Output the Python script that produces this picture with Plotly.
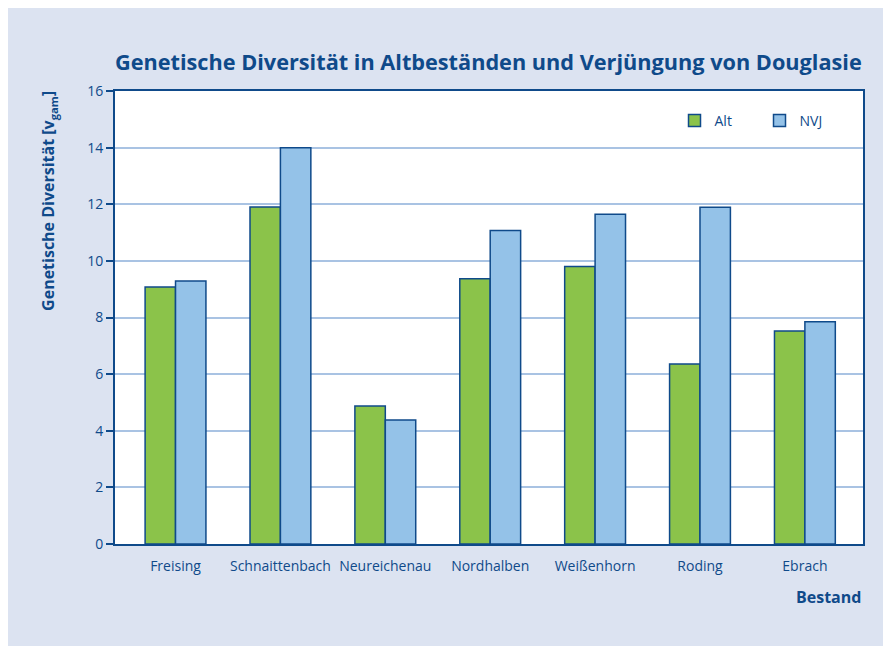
import plotly.graph_objects as go

# ---- Daten ----
bestaende = ['Freising', 'Schnaittenbach', 'Neureichenau', 'Nordhalben',
             'Weißenhorn', 'Roding', 'Ebrach']
alt = [9.08, 11.9, 4.87, 9.37, 9.8, 6.36, 7.52]
nvj = [9.29, 14.0, 4.38, 11.07, 11.65, 11.89, 7.85]
y_ticks = [0, 2, 4, 6, 8, 10, 12, 14, 16]

dunkelblau = '#0f4a8a'
gruen = '#8bc34a'
hellblau = '#94c2e8'
hintergrund = '#dce3f1'
font = 'Open Sans'

bargap = 0.42
x_range = [-0.577, 6.554]
# Striche an den Kanten der Balkengruppen
half = (1 - bargap) / 2
kanten = [x_range[0]] + [v for i in range(len(bestaende)) for v in (i - half, i + half)] + [x_range[1]]

fig = go.Figure()
fig.add_trace(go.Bar(x=bestaende, y=alt, name='Alt', marker_color=gruen,
                     marker_line=dict(color=dunkelblau, width=1.5)))
fig.add_trace(go.Bar(x=bestaende, y=nvj, name='NVJ', marker_color=hellblau,
                     marker_line=dict(color=dunkelblau, width=1.5)))

# die Seite hat 8px Rand -> Figur etwas kleiner
fig.update_layout(
    width=883, height=638,
    margin=dict(l=107, r=28, t=83, b=102),
    paper_bgcolor=hintergrund, plot_bgcolor='white',
    font=dict(family=font, size=14, color=dunkelblau),
    barmode='group', bargap=bargap, bargroupgap=0,
    title=dict(text='<b>Genetische Diversität in Altbeständen und Verjüngung von Douglasie</b>',
               x=0.544, xanchor='center', y=0.915, yanchor='middle',
               font=dict(size=21.7, color=dunkelblau, family=font)),
    xaxis=dict(type='category', range=x_range, showgrid=False, tickangle=0,
               showline=True, linecolor=dunkelblau, linewidth=2, mirror=True,
               ticks='outside', ticklen=8, tickcolor='rgba(0,0,0,0)',
               tickfont=dict(size=14, color=dunkelblau)),
    xaxis2=dict(overlaying='x', anchor='y', side='bottom', range=x_range,
                tickvals=kanten, ticktext=[''] * len(kanten), showgrid=False,
                showline=False, ticks='outside', ticklen=7, tickwidth=1.5,
                tickcolor=dunkelblau, zeroline=False),
    yaxis=dict(range=[0, 16], tickvals=y_ticks, showgrid=True, gridcolor='#a9c3e3', gridwidth=2,
               zeroline=False, showline=True, linecolor=dunkelblau, linewidth=2, mirror=True,
               ticks='outside', ticklen=7, tickwidth=1.5, tickcolor=dunkelblau,
               tickfont=dict(size=14, color=dunkelblau)),
    legend=dict(orientation='h', x=0.748, xanchor='left', y=0.934, yanchor='middle',
                bgcolor='rgba(0,0,0,0)', font=dict(size=14, color=dunkelblau),
                itemwidth=30, entrywidth=40),
    showlegend=True,
)

fig.add_annotation(text='<b>Genetische Diversität [v<sub>gam</sub>]</b>', xref='paper', yref='paper',
                   x=-0.088, y=1.005, xanchor='center', yanchor='top', textangle=-90,
                   showarrow=False, font=dict(size=16, color=dunkelblau, family=font))
fig.add_annotation(text='<b>Bestand</b>', xref='paper', yref='paper', x=1.0, y=-0.117,
                   xanchor='right', yanchor='middle', showarrow=False,
                   font=dict(size=16, color=dunkelblau, family=font))

fig.write_html('out.html')
